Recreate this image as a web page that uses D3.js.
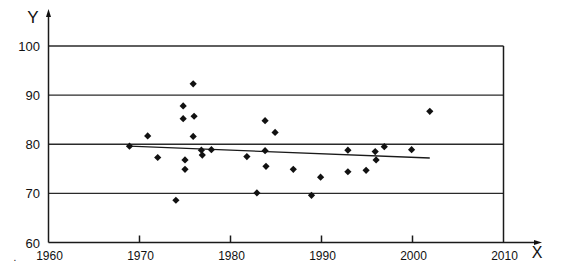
<!DOCTYPE html>
<html>
<head>
<meta charset="utf-8">
<script src="https://cdn.jsdelivr.net/npm/d3@7"></script>
<style>
  body { margin: 0; background: #fff; }
  svg { display: block; font-family: "Liberation Sans", Arial, sans-serif; }
  .grid { stroke: #2a2a2a; stroke-width: 1.4; }
  .axis { stroke: #1a1a1a; stroke-width: 1.5; fill: none; }
  .pt { fill: #111; }
  .trend { stroke: #1a1a1a; stroke-width: 1.3; fill: none; }
  text { fill: #111; }
</style>
</head>
<body>
<svg class="figure" width="567" height="272"></svg>
<script>
// values
var years = [1968.9, 1970.9, 1972.0, 1974.0, 1974.8, 1974.8, 1975.0, 1975.0, 1975.9, 1975.9,
             1976.0, 1976.8, 1976.9, 1977.9, 1981.8, 1982.9, 1983.8, 1983.8, 1983.9, 1984.9,
             1986.9, 1988.9, 1989.9, 1992.9, 1992.9, 1994.9, 1995.9, 1996.0, 1996.9, 1999.9,
             2001.9];
var values = [79.6, 81.7, 77.3, 68.6, 87.8, 85.2, 76.8, 74.9, 92.3, 81.6,
              85.7, 78.8, 77.8, 78.9, 77.5, 70.1, 84.8, 78.7, 75.5, 82.4,
              74.9, 69.6, 73.3, 78.8, 74.4, 74.7, 78.5, 76.8, 79.5, 78.9,
              86.7];
var trendYears = [1968.9, 2001.9];
var trendValues = [79.6, 77.2];
var xTicks = [1960, 1970, 1980, 1990, 2000, 2010];
var yTicks = [60, 70, 80, 90, 100];

var svg = d3.select("svg.figure");

var x = d3.scaleLinear().domain([1960, 2010]).range([48.5, 503.5]);
var y = d3.scaleLinear().domain([60, 100]).range([242.5, 46]);

// horizontal grid lines
svg.selectAll("line.grid")
.data(yTicks.filter(function(d) { return d > 60; }))
.enter()
.append("line")
.attr("class", "grid")
.attr("x1", x(1960))
.attr("x2", x(2010))
.attr("y1", function(d) { return y(d); })
.attr("y2", function(d) { return y(d); });

// right border
svg.append("line")
.attr("class", "axis")
.attr("x1", x(2010)).attr("x2", x(2010))
.attr("y1", y(100)).attr("y2", y(60));

// y axis with arrow
svg.append("line")
.attr("class", "axis")
.attr("x1", x(1960)).attr("x2", x(1960))
.attr("y1", y(60)).attr("y2", 14);
svg.append("path")
.attr("d", "M" + x(1960) + ",9 l-2.5,8 l5,0 z")
.attr("fill", "#111");

// x axis with arrow
svg.append("line")
.attr("class", "axis")
.attr("x1", x(1960)).attr("x2", 537)
.attr("y1", y(60)).attr("y2", y(60));
svg.append("path")
.attr("d", "M542," + y(60) + " l-8,-2.5 l0,5 z")
.attr("fill", "#111");

// small ticks on x axis
svg.selectAll("line.xtick")
.data(xTicks.filter(function(d) { return d > 1960 && d < 2010; }))
.enter()
.append("line")
.attr("class", "axis")
.attr("x1", function(d) { return x(d); })
.attr("x2", function(d) { return x(d); })
.attr("y1", y(60))
.attr("y2", y(60) - 7);

// tick labels
svg.selectAll("text.xlab")
.data(xTicks)
.enter()
.append("text")
.attr("x", function(d) { return x(d) + 1; })
.attr("y", 260)
.attr("text-anchor", "middle")
.attr("font-size", 12)
.text(function(d) { return d; });

svg.selectAll("text.ylab")
.data(yTicks)
.enter()
.append("text")
.attr("x", 40)
.attr("y", function(d) { return y(d) + 5; })
.attr("text-anchor", "end")
.attr("font-size", 13)
.text(function(d) { return d; });

svg.append("text").attr("x", 33).attr("y", 23)
.attr("text-anchor", "middle").attr("font-size", 17).text("Y");
svg.append("text").attr("x", 537).attr("y", 258)
.attr("text-anchor", "middle").attr("font-size", 16).text("X");
svg.append("text").attr("x", 15).attr("y", 261)
.attr("text-anchor", "middle").attr("font-size", 10).text(".");

// trend line
var line = d3.line()
.x(function(d) { return x(d[0]); })
.y(function(d) { return y(d[1]); });
svg.append("path")
.attr("class", "trend")
.attr("d", line(d3.zip(trendYears, trendValues)));

// data points as diamonds
var diamond = d3.symbol().type(d3.symbolSquare).size(26);
svg.selectAll("path.pt")
.data(d3.zip(years, values))
.enter()
.append("path")
.attr("class", "pt")
.attr("d", diamond)
.attr("transform", function(d) {
  return "translate(" + x(d[0]) + "," + y(d[1]) + ") rotate(45)";
});
</script>
</body>
</html>
